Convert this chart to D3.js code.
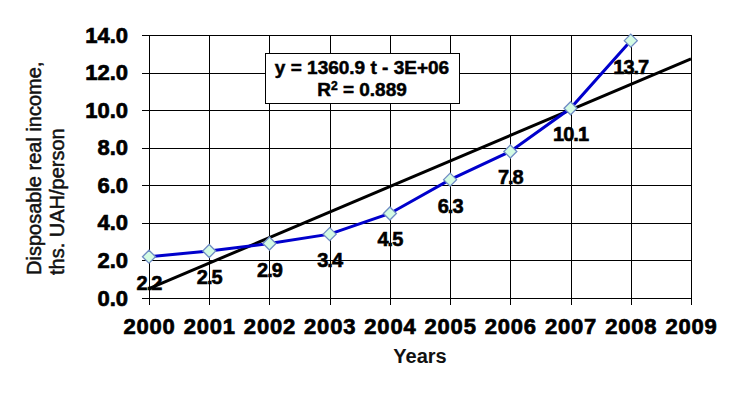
<!DOCTYPE html>
<html>
<head>
<meta charset="utf-8">
<script src="https://cdn.jsdelivr.net/npm/d3@7"></script>
<style>
  body { margin: 0; background: #fff; }
  text { font-family: Arial, "Liberation Sans", sans-serif; }
</style>
</head>
<body>
<div class="visArea"></div>
<script>
// Data
var years = [2000, 2001, 2002, 2003, 2004, 2005, 2006, 2007, 2008];
var income = [2.2, 2.5, 2.9, 3.4, 4.5, 6.3, 7.8, 10.1, 13.7];
var xTicks = [2000, 2001, 2002, 2003, 2004, 2005, 2006, 2007, 2008, 2009];
var yTicks = [0, 2, 4, 6, 8, 10, 12, 14];
var equationText = 'y = 1360.9 t - 3E+06';
var r2Text = ' = 0.889';

var width = 730;
var height = 395;
var plotLeft = 149, plotRight = 691, plotTop = 35, plotBottom = 298;

var svg = d3.select('.visArea')
  .append('svg')
  .attr('width', width)
  .attr('height', height);

var x = d3.scaleLinear().domain([2000, 2009]).range([plotLeft, plotRight]);
var y = d3.scaleLinear().domain([0, 14]).range([plotBottom, plotTop]);

// horizontal grid + y labels (ticks stick out 7px to the left)
var yAxis = svg.append('g')
  .attr('transform', 'translate(' + (plotLeft - 7) + ',0)')
  .call(d3.axisLeft(y)
    .tickValues(yTicks)
    .tickSize(-(plotRight - plotLeft + 7))
    .tickPadding(14)
    .tickFormat(d3.format('.1f')));

// vertical grid + year labels (ticks stick out 7px below)
var xAxis = svg.append('g')
  .attr('transform', 'translate(0,' + (plotBottom + 7) + ')')
  .call(d3.axisBottom(x)
    .tickValues(xTicks)
    .tickSize(-(plotBottom + 7 - plotTop))
    .tickPadding(13)
    .tickFormat(d3.format('d')));

svg.selectAll('.domain').remove();
svg.selectAll('.tick line')
  .attr('stroke', '#000')
  .attr('stroke-width', 1)
  .attr('shape-rendering', 'crispEdges');

svg.selectAll('.tick text')
  .attr('fill', '#000')
  .style('font-size', '22px')
  .style('font-weight', 'bold')
  .attr('stroke', '#000')
  .attr('stroke-width', 0.7)
  .attr('font-family', 'Arial, "Liberation Sans", sans-serif');

xAxis.selectAll('.tick text')
  .style('letter-spacing', '0.8px');

// linear trend (least squares on the data, as Excel does)
var meanX = d3.mean(years);
var meanY = d3.mean(income);
var sxy = d3.sum(years, (t, i) => (t - meanX) * (income[i] - meanY));
var sxx = d3.sum(years, t => (t - meanX) * (t - meanX));
var slope = sxy / sxx;
var intercept = meanY - slope * meanX;
var trendYears = [2000, 2009];

svg.append('path')
  .datum(trendYears)
  .attr('fill', 'none')
  .attr('stroke', '#000')
  .attr('stroke-width', 3)
  .attr('d', d3.line()
    .x(t => x(t))
    .y(t => y(intercept + slope * t)));

// data line
var points = years.map((t, i) => ({year: t, value: income[i]}));

svg.append('path')
  .datum(points)
  .attr('fill', 'none')
  .attr('stroke', '#0000cc')
  .attr('stroke-width', 3)
  .attr('d', d3.line()
    .x(d => x(d.year))
    .y(d => y(d.value)));

svg.selectAll('.marker')
  .data(points)
  .enter()
  .append('path')
  .attr('class', 'marker')
  .attr('transform', d => 'translate(' + x(d.year) + ',' + y(d.value) + ')')
  .attr('d', 'M0,-6.5L6.5,0L0,6.5L-6.5,0Z')
  .attr('fill', '#d4fbe4')
  .attr('stroke', '#6f8cc4')
  .attr('stroke-width', 1.3);

// data labels below each point
svg.selectAll('.valueLabel')
  .data(points)
  .enter()
  .append('text')
  .attr('class', 'valueLabel')
  .attr('x', d => x(d.year))
  .attr('y', d => y(d.value) + 33)
  .attr('text-anchor', 'middle')
  .style('font-size', '20px')
  .style('font-weight', 'bold')
  .style('letter-spacing', '-1px')
  .attr('stroke', '#000')
  .attr('stroke-width', 0.6)
  .text(d => d.value.toFixed(1));

// trend equation box
svg.append('rect')
  .attr('x', 265.5)
  .attr('y', 53.5)
  .attr('width', 194)
  .attr('height', 50)
  .attr('fill', '#fff')
  .attr('stroke', '#000')
  .attr('stroke-width', 1);

svg.append('text')
  .attr('x', 362)
  .attr('y', 74)
  .attr('text-anchor', 'middle')
  .style('font-size', '19px')
  .style('font-weight', 'bold')
  .attr('stroke', '#000')
  .attr('stroke-width', 0.5)
  .text(equationText);

var r2 = svg.append('text')
  .attr('x', 362)
  .attr('y', 96)
  .attr('text-anchor', 'middle')
  .style('font-size', '19px')
  .style('font-weight', 'bold')
  .attr('stroke', '#000')
  .attr('stroke-width', 0.5);
r2.append('tspan').text('R');
r2.append('tspan').attr('dy', -6).style('font-size', '12px').text('2');
r2.append('tspan').attr('dy', 6).text(r2Text);

// axis titles
svg.append('text')
  .attr('x', 420)
  .attr('y', 363)
  .attr('text-anchor', 'middle')
  .style('font-size', '20px')
  .style('font-weight', 'bold')
  .attr('fill', '#111')
  .text('Years');

var yTitle = svg.append('text')
  .attr('transform', 'translate(0,275) rotate(-90)')
  .style('font-size', '20px')
  .attr('fill', '#111')
  .attr('stroke', '#111')
  .attr('stroke-width', 0.5);
yTitle.append('tspan').attr('x', 0).attr('y', 41).text('Disposable real income,');
yTitle.append('tspan').attr('x', 0).attr('y', 64).text('ths. UAH/person');
</script>
</body>
</html>
